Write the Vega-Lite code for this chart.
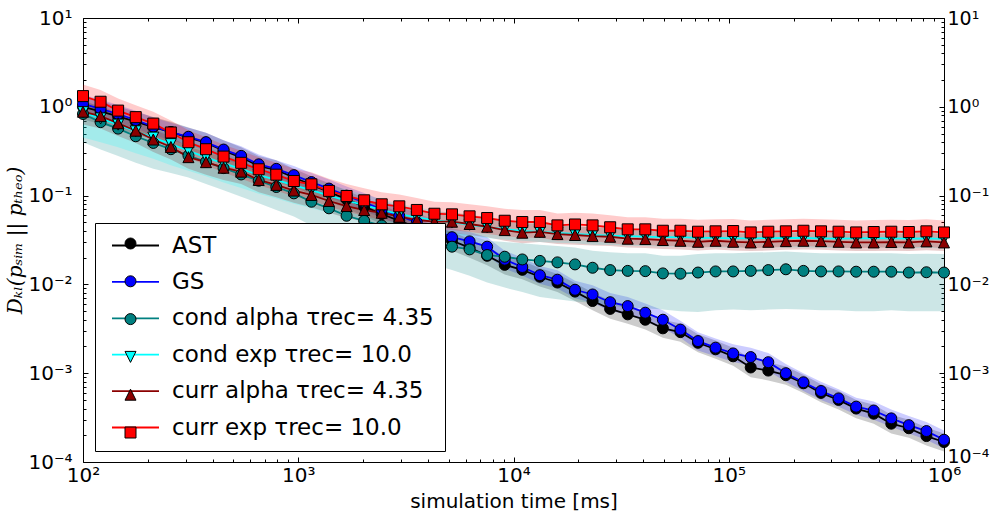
{
"$schema": "https://vega.github.io/schema/vega-lite/v6.json",
"width": 861,
"height": 444,
"autosize": {"type": "none"},
"padding": {"left": 83, "top": 18, "right": 46, "bottom": 56},
"background": "white",
"config": {
  "font": "DejaVu Sans",
  "view": {"stroke": "black", "strokeWidth": 1},
  "axis": {"domain": false, "grid": false, "labelColor": "black", "tickColor": "black", "labelFontSize": 20, "labelFont": "DejaVu Sans", "titleColor": "black", "titleFontWeight": "normal", "labelOverlap": false, "labelFlush": false, "tickWidth": 1}
},
"data": {"values": [
{"s":"AST","t":100,"v":1.0,"lo":0.72,"hi":1.3},
{"s":"AST","t":120.7,"v":0.89,"lo":0.64,"hi":1.16},
{"s":"AST","t":145.6,"v":0.78,"lo":0.56,"hi":1.01},
{"s":"AST","t":175.8,"v":0.68,"lo":0.49,"hi":0.88},
{"s":"AST","t":212.1,"v":0.59,"lo":0.425,"hi":0.77},
{"s":"AST","t":256,"v":0.52,"lo":0.375,"hi":0.68},
{"s":"AST","t":308.9,"v":0.45,"lo":0.325,"hi":0.585},
{"s":"AST","t":372.8,"v":0.395,"lo":0.285,"hi":0.51},
{"s":"AST","t":449.8,"v":0.32,"lo":0.23,"hi":0.42},
{"s":"AST","t":542.9,"v":0.27,"lo":0.195,"hi":0.35},
{"s":"AST","t":655.1,"v":0.215,"lo":0.155,"hi":0.28},
{"s":"AST","t":790.6,"v":0.195,"lo":0.14,"hi":0.25},
{"s":"AST","t":954.1,"v":0.16,"lo":0.125,"hi":0.2},
{"s":"AST","t":1151,"v":0.132,"lo":0.103,"hi":0.165},
{"s":"AST","t":1389,"v":0.11,"lo":0.086,"hi":0.138},
{"s":"AST","t":1677,"v":0.091,"lo":0.071,"hi":0.114},
{"s":"AST","t":2024,"v":0.075,"lo":0.059,"hi":0.094},
{"s":"AST","t":2442,"v":0.062,"lo":0.048,"hi":0.078},
{"s":"AST","t":2947,"v":0.052,"lo":0.041,"hi":0.065},
{"s":"AST","t":3556,"v":0.044,"lo":0.034,"hi":0.055},
{"s":"AST","t":4292,"v":0.037,"lo":0.029,"hi":0.046},
{"s":"AST","t":5179,"v":0.031,"lo":0.024,"hi":0.039},
{"s":"AST","t":6251,"v":0.026,"lo":0.02,"hi":0.0325},
{"s":"AST","t":7543,"v":0.021,"lo":0.0164,"hi":0.0263},
{"s":"AST","t":9103,"v":0.0166,"lo":0.0129,"hi":0.0208},
{"s":"AST","t":10985,"v":0.0146,"lo":0.0114,"hi":0.0183},
{"s":"AST","t":13257,"v":0.0122,"lo":0.0095,"hi":0.0153},
{"s":"AST","t":15999,"v":0.0105,"lo":0.0082,"hi":0.0131},
{"s":"AST","t":19307,"v":0.0083,"lo":0.0065,"hi":0.0104},
{"s":"AST","t":23300,"v":0.0065,"lo":0.0051,"hi":0.0081},
{"s":"AST","t":28118,"v":0.0053,"lo":0.0041,"hi":0.0066},
{"s":"AST","t":33932,"v":0.0046,"lo":0.0036,"hi":0.0058},
{"s":"AST","t":40949,"v":0.004,"lo":0.0031,"hi":0.005},
{"s":"AST","t":49417,"v":0.0032,"lo":0.0025,"hi":0.004},
{"s":"AST","t":59636,"v":0.0029,"lo":0.00226,"hi":0.00363},
{"s":"AST","t":71969,"v":0.0022,"lo":0.00172,"hi":0.00275},
{"s":"AST","t":86851,"v":0.00186,"lo":0.00145,"hi":0.00233},
{"s":"AST","t":104811,"v":0.00155,"lo":0.00121,"hi":0.00194},
{"s":"AST","t":126486,"v":0.00116,"lo":0.0009,"hi":0.00145},
{"s":"AST","t":152642,"v":0.00107,"lo":0.00083,"hi":0.00134},
{"s":"AST","t":184207,"v":0.00095,"lo":0.00074,"hi":0.00119},
{"s":"AST","t":222300,"v":0.00077,"lo":0.0006,"hi":0.00096},
{"s":"AST","t":268270,"v":0.0006,"lo":0.00047,"hi":0.00075},
{"s":"AST","t":323746,"v":0.0005,"lo":0.00039,"hi":0.00063},
{"s":"AST","t":390694,"v":0.0004,"lo":0.00031,"hi":0.0005},
{"s":"AST","t":471487,"v":0.00035,"lo":0.00027,"hi":0.00044},
{"s":"AST","t":568987,"v":0.00027,"lo":0.00021,"hi":0.00034},
{"s":"AST","t":686649,"v":0.00024,"lo":0.000187,"hi":0.0003},
{"s":"AST","t":828643,"v":0.000196,"lo":0.000153,"hi":0.000245},
{"s":"AST","t":1000000,"v":0.000168,"lo":0.000131,"hi":0.00021},
{"s":"GS","t":100,"v":1.08,"lo":0.86,"hi":1.37},
{"s":"GS","t":120.7,"v":0.95,"lo":0.76,"hi":1.21},
{"s":"GS","t":145.6,"v":0.83,"lo":0.66,"hi":1.05},
{"s":"GS","t":175.8,"v":0.71,"lo":0.57,"hi":0.9},
{"s":"GS","t":212.1,"v":0.6,"lo":0.48,"hi":0.76},
{"s":"GS","t":256,"v":0.52,"lo":0.42,"hi":0.66},
{"s":"GS","t":308.9,"v":0.46,"lo":0.37,"hi":0.58},
{"s":"GS","t":372.8,"v":0.4,"lo":0.32,"hi":0.51},
{"s":"GS","t":449.8,"v":0.33,"lo":0.26,"hi":0.42},
{"s":"GS","t":542.9,"v":0.28,"lo":0.22,"hi":0.36},
{"s":"GS","t":655.1,"v":0.225,"lo":0.18,"hi":0.29},
{"s":"GS","t":790.6,"v":0.2,"lo":0.16,"hi":0.25},
{"s":"GS","t":954.1,"v":0.17,"lo":0.136,"hi":0.216},
{"s":"GS","t":1151,"v":0.142,"lo":0.114,"hi":0.18},
{"s":"GS","t":1389,"v":0.12,"lo":0.096,"hi":0.152},
{"s":"GS","t":1677,"v":0.1,"lo":0.08,"hi":0.127},
{"s":"GS","t":2024,"v":0.084,"lo":0.067,"hi":0.107},
{"s":"GS","t":2442,"v":0.07,"lo":0.056,"hi":0.089},
{"s":"GS","t":2947,"v":0.059,"lo":0.047,"hi":0.075},
{"s":"GS","t":3556,"v":0.05,"lo":0.04,"hi":0.064},
{"s":"GS","t":4292,"v":0.042,"lo":0.034,"hi":0.053},
{"s":"GS","t":5179,"v":0.034,"lo":0.027,"hi":0.043},
{"s":"GS","t":6251,"v":0.0305,"lo":0.024,"hi":0.039},
{"s":"GS","t":7543,"v":0.0266,"lo":0.021,"hi":0.034},
{"s":"GS","t":9103,"v":0.019,"lo":0.015,"hi":0.024},
{"s":"GS","t":10985,"v":0.0157,"lo":0.0126,"hi":0.02},
{"s":"GS","t":13257,"v":0.0127,"lo":0.0102,"hi":0.0161},
{"s":"GS","t":15999,"v":0.0113,"lo":0.009,"hi":0.0144},
{"s":"GS","t":19307,"v":0.0087,"lo":0.007,"hi":0.011},
{"s":"GS","t":23300,"v":0.0077,"lo":0.0062,"hi":0.0098},
{"s":"GS","t":28118,"v":0.0063,"lo":0.005,"hi":0.008},
{"s":"GS","t":33932,"v":0.0057,"lo":0.0046,"hi":0.0072},
{"s":"GS","t":40949,"v":0.0048,"lo":0.0038,"hi":0.0061},
{"s":"GS","t":49417,"v":0.004,"lo":0.0032,"hi":0.0051},
{"s":"GS","t":59636,"v":0.0031,"lo":0.0025,"hi":0.0039},
{"s":"GS","t":71969,"v":0.0023,"lo":0.0018,"hi":0.0029},
{"s":"GS","t":86851,"v":0.00194,"lo":0.00155,"hi":0.00246},
{"s":"GS","t":104811,"v":0.00167,"lo":0.00134,"hi":0.00212},
{"s":"GS","t":126486,"v":0.00152,"lo":0.00122,"hi":0.00193},
{"s":"GS","t":152642,"v":0.00133,"lo":0.00106,"hi":0.00169},
{"s":"GS","t":184207,"v":0.001,"lo":0.0008,"hi":0.00127},
{"s":"GS","t":222300,"v":0.00079,"lo":0.00063,"hi":0.001},
{"s":"GS","t":268270,"v":0.00063,"lo":0.0005,"hi":0.0008},
{"s":"GS","t":323746,"v":0.00052,"lo":0.00042,"hi":0.00066},
{"s":"GS","t":390694,"v":0.00042,"lo":0.00034,"hi":0.00053},
{"s":"GS","t":471487,"v":0.00038,"lo":0.0003,"hi":0.00048},
{"s":"GS","t":568987,"v":0.00031,"lo":0.00025,"hi":0.00039},
{"s":"GS","t":686649,"v":0.00026,"lo":0.00021,"hi":0.00033},
{"s":"GS","t":828643,"v":0.000223,"lo":0.000178,"hi":0.000283},
{"s":"GS","t":1000000,"v":0.000178,"lo":0.000142,"hi":0.000226},
{"s":"ca","t":100,"v":0.83,"lo":0.4,"hi":1.2},
{"s":"ca","t":120.7,"v":0.672,"lo":0.33,"hi":0.97},
{"s":"ca","t":145.6,"v":0.568,"lo":0.28,"hi":0.82},
{"s":"ca","t":175.8,"v":0.466,"lo":0.235,"hi":0.68},
{"s":"ca","t":212.1,"v":0.392,"lo":0.2,"hi":0.57},
{"s":"ca","t":256,"v":0.333,"lo":0.18,"hi":0.48},
{"s":"ca","t":308.9,"v":0.283,"lo":0.16,"hi":0.41},
{"s":"ca","t":372.8,"v":0.24,"lo":0.135,"hi":0.35},
{"s":"ca","t":449.8,"v":0.204,"lo":0.115,"hi":0.3},
{"s":"ca","t":542.9,"v":0.173,"lo":0.097,"hi":0.25},
{"s":"ca","t":655.1,"v":0.147,"lo":0.082,"hi":0.213},
{"s":"ca","t":790.6,"v":0.125,"lo":0.069,"hi":0.181},
{"s":"ca","t":954.1,"v":0.106,"lo":0.058,"hi":0.154},
{"s":"ca","t":1151,"v":0.0853,"lo":0.046,"hi":0.124},
{"s":"ca","t":1389,"v":0.0719,"lo":0.038,"hi":0.104},
{"s":"ca","t":1677,"v":0.0593,"lo":0.031,"hi":0.086},
{"s":"ca","t":2024,"v":0.052,"lo":0.027,"hi":0.075},
{"s":"ca","t":2442,"v":0.046,"lo":0.023,"hi":0.067},
{"s":"ca","t":2947,"v":0.04,"lo":0.02,"hi":0.058},
{"s":"ca","t":3556,"v":0.035,"lo":0.018,"hi":0.051},
{"s":"ca","t":4292,"v":0.03,"lo":0.0165,"hi":0.044},
{"s":"ca","t":5179,"v":0.0266,"lo":0.0145,"hi":0.039},
{"s":"ca","t":6251,"v":0.0248,"lo":0.0125,"hi":0.036},
{"s":"ca","t":7543,"v":0.0214,"lo":0.0105,"hi":0.031},
{"s":"ca","t":9103,"v":0.0205,"lo":0.0092,"hi":0.03},
{"s":"ca","t":10985,"v":0.0191,"lo":0.0082,"hi":0.029},
{"s":"ca","t":13257,"v":0.0184,"lo":0.0072,"hi":0.028},
{"s":"ca","t":15999,"v":0.0177,"lo":0.0068,"hi":0.027},
{"s":"ca","t":19307,"v":0.0168,"lo":0.0064,"hi":0.026},
{"s":"ca","t":23300,"v":0.0154,"lo":0.0062,"hi":0.024},
{"s":"ca","t":28118,"v":0.0145,"lo":0.0058,"hi":0.023},
{"s":"ca","t":33932,"v":0.0142,"lo":0.0055,"hi":0.0225},
{"s":"ca","t":40949,"v":0.0141,"lo":0.0054,"hi":0.0224},
{"s":"ca","t":49417,"v":0.0133,"lo":0.0052,"hi":0.021},
{"s":"ca","t":59636,"v":0.0132,"lo":0.005,"hi":0.021},
{"s":"ca","t":71969,"v":0.0136,"lo":0.0049,"hi":0.022},
{"s":"ca","t":86851,"v":0.014,"lo":0.0051,"hi":0.0224},
{"s":"ca","t":104811,"v":0.014,"lo":0.0052,"hi":0.0225},
{"s":"ca","t":126486,"v":0.0142,"lo":0.0051,"hi":0.0228},
{"s":"ca","t":152642,"v":0.0145,"lo":0.0052,"hi":0.023},
{"s":"ca","t":184207,"v":0.0148,"lo":0.0053,"hi":0.0235},
{"s":"ca","t":222300,"v":0.0142,"lo":0.0052,"hi":0.0228},
{"s":"ca","t":268270,"v":0.014,"lo":0.0051,"hi":0.0225},
{"s":"ca","t":323746,"v":0.014,"lo":0.0051,"hi":0.0225},
{"s":"ca","t":390694,"v":0.0139,"lo":0.005,"hi":0.0224},
{"s":"ca","t":471487,"v":0.0139,"lo":0.005,"hi":0.0224},
{"s":"ca","t":568987,"v":0.0139,"lo":0.0051,"hi":0.0224},
{"s":"ca","t":686649,"v":0.0136,"lo":0.005,"hi":0.022},
{"s":"ca","t":828643,"v":0.0137,"lo":0.005,"hi":0.0222},
{"s":"ca","t":1000000,"v":0.0136,"lo":0.005,"hi":0.022},
{"s":"ce","t":100,"v":0.87,"lo":0.45,"hi":1.15},
{"s":"ce","t":120.7,"v":0.74,"lo":0.4,"hi":0.99},
{"s":"ce","t":145.6,"v":0.63,"lo":0.35,"hi":0.85},
{"s":"ce","t":175.8,"v":0.53,"lo":0.3,"hi":0.72},
{"s":"ce","t":212.1,"v":0.45,"lo":0.26,"hi":0.61},
{"s":"ce","t":256,"v":0.38,"lo":0.22,"hi":0.52},
{"s":"ce","t":308.9,"v":0.32,"lo":0.19,"hi":0.44},
{"s":"ce","t":372.8,"v":0.27,"lo":0.165,"hi":0.37},
{"s":"ce","t":449.8,"v":0.23,"lo":0.14,"hi":0.31},
{"s":"ce","t":542.9,"v":0.2,"lo":0.122,"hi":0.27},
{"s":"ce","t":655.1,"v":0.17,"lo":0.105,"hi":0.23},
{"s":"ce","t":790.6,"v":0.15,"lo":0.093,"hi":0.2},
{"s":"ce","t":954.1,"v":0.13,"lo":0.081,"hi":0.175},
{"s":"ce","t":1151,"v":0.115,"lo":0.072,"hi":0.155},
{"s":"ce","t":1389,"v":0.1,"lo":0.064,"hi":0.134},
{"s":"ce","t":1677,"v":0.088,"lo":0.057,"hi":0.117},
{"s":"ce","t":2024,"v":0.078,"lo":0.051,"hi":0.103},
{"s":"ce","t":2442,"v":0.069,"lo":0.046,"hi":0.091},
{"s":"ce","t":2947,"v":0.062,"lo":0.042,"hi":0.081},
{"s":"ce","t":3556,"v":0.057,"lo":0.04,"hi":0.074},
{"s":"ce","t":4292,"v":0.053,"lo":0.038,"hi":0.068},
{"s":"ce","t":5179,"v":0.05,"lo":0.036,"hi":0.064},
{"s":"ce","t":6251,"v":0.047,"lo":0.035,"hi":0.06},
{"s":"ce","t":7543,"v":0.044,"lo":0.033,"hi":0.056},
{"s":"ce","t":9103,"v":0.042,"lo":0.032,"hi":0.053},
{"s":"ce","t":10985,"v":0.04,"lo":0.031,"hi":0.05},
{"s":"ce","t":13257,"v":0.039,"lo":0.03,"hi":0.048},
{"s":"ce","t":15999,"v":0.038,"lo":0.0295,"hi":0.047},
{"s":"ce","t":19307,"v":0.037,"lo":0.029,"hi":0.045},
{"s":"ce","t":23300,"v":0.036,"lo":0.028,"hi":0.044},
{"s":"ce","t":28118,"v":0.0355,"lo":0.0277,"hi":0.0435},
{"s":"ce","t":33932,"v":0.035,"lo":0.0273,"hi":0.043},
{"s":"ce","t":40949,"v":0.0345,"lo":0.027,"hi":0.042},
{"s":"ce","t":49417,"v":0.034,"lo":0.0265,"hi":0.0415},
{"s":"ce","t":59636,"v":0.034,"lo":0.0265,"hi":0.0415},
{"s":"ce","t":71969,"v":0.0335,"lo":0.026,"hi":0.041},
{"s":"ce","t":86851,"v":0.0335,"lo":0.026,"hi":0.041},
{"s":"ce","t":104811,"v":0.033,"lo":0.0258,"hi":0.0403},
{"s":"ce","t":126486,"v":0.033,"lo":0.0258,"hi":0.0403},
{"s":"ce","t":152642,"v":0.0332,"lo":0.026,"hi":0.0405},
{"s":"ce","t":184207,"v":0.0335,"lo":0.026,"hi":0.041},
{"s":"ce","t":222300,"v":0.0333,"lo":0.026,"hi":0.0406},
{"s":"ce","t":268270,"v":0.033,"lo":0.0258,"hi":0.0403},
{"s":"ce","t":323746,"v":0.0328,"lo":0.0256,"hi":0.04},
{"s":"ce","t":390694,"v":0.033,"lo":0.0258,"hi":0.0403},
{"s":"ce","t":471487,"v":0.0332,"lo":0.026,"hi":0.0405},
{"s":"ce","t":568987,"v":0.033,"lo":0.0258,"hi":0.0403},
{"s":"ce","t":686649,"v":0.0328,"lo":0.0256,"hi":0.04},
{"s":"ce","t":828643,"v":0.033,"lo":0.0258,"hi":0.0403},
{"s":"ce","t":1000000,"v":0.0326,"lo":0.0254,"hi":0.0398},
{"s":"ra","t":100,"v":0.88,"lo":0.63,"hi":1.15},
{"s":"ra","t":120.7,"v":0.786,"lo":0.57,"hi":1.02},
{"s":"ra","t":145.6,"v":0.653,"lo":0.47,"hi":0.85},
{"s":"ra","t":175.8,"v":0.538,"lo":0.39,"hi":0.7},
{"s":"ra","t":212.1,"v":0.428,"lo":0.31,"hi":0.56},
{"s":"ra","t":256,"v":0.353,"lo":0.255,"hi":0.46},
{"s":"ra","t":308.9,"v":0.271,"lo":0.2,"hi":0.355},
{"s":"ra","t":372.8,"v":0.238,"lo":0.172,"hi":0.31},
{"s":"ra","t":449.8,"v":0.206,"lo":0.15,"hi":0.268},
{"s":"ra","t":542.9,"v":0.186,"lo":0.135,"hi":0.242},
{"s":"ra","t":655.1,"v":0.15,"lo":0.109,"hi":0.195},
{"s":"ra","t":790.6,"v":0.132,"lo":0.096,"hi":0.172},
{"s":"ra","t":954.1,"v":0.114,"lo":0.083,"hi":0.148},
{"s":"ra","t":1151,"v":0.1016,"lo":0.074,"hi":0.132},
{"s":"ra","t":1389,"v":0.0869,"lo":0.064,"hi":0.113},
{"s":"ra","t":1677,"v":0.0763,"lo":0.056,"hi":0.099},
{"s":"ra","t":2024,"v":0.0688,"lo":0.051,"hi":0.089},
{"s":"ra","t":2442,"v":0.0641,"lo":0.048,"hi":0.083},
{"s":"ra","t":2947,"v":0.0578,"lo":0.043,"hi":0.075},
{"s":"ra","t":3556,"v":0.0531,"lo":0.04,"hi":0.068},
{"s":"ra","t":4292,"v":0.0508,"lo":0.038,"hi":0.065},
{"s":"ra","t":5179,"v":0.0508,"lo":0.038,"hi":0.065},
{"s":"ra","t":6251,"v":0.0479,"lo":0.036,"hi":0.061},
{"s":"ra","t":7543,"v":0.0446,"lo":0.034,"hi":0.057},
{"s":"ra","t":9103,"v":0.0409,"lo":0.031,"hi":0.052},
{"s":"ra","t":10985,"v":0.0382,"lo":0.029,"hi":0.048},
{"s":"ra","t":13257,"v":0.0391,"lo":0.03,"hi":0.049},
{"s":"ra","t":15999,"v":0.0369,"lo":0.0285,"hi":0.0465},
{"s":"ra","t":19307,"v":0.036,"lo":0.028,"hi":0.0452},
{"s":"ra","t":23300,"v":0.035,"lo":0.0275,"hi":0.044},
{"s":"ra","t":28118,"v":0.0344,"lo":0.027,"hi":0.043},
{"s":"ra","t":33932,"v":0.0327,"lo":0.026,"hi":0.041},
{"s":"ra","t":40949,"v":0.0324,"lo":0.0257,"hi":0.0405},
{"s":"ra","t":49417,"v":0.0316,"lo":0.0251,"hi":0.0395},
{"s":"ra","t":59636,"v":0.031,"lo":0.0247,"hi":0.0387},
{"s":"ra","t":71969,"v":0.0302,"lo":0.0241,"hi":0.0377},
{"s":"ra","t":86851,"v":0.031,"lo":0.0247,"hi":0.0387},
{"s":"ra","t":104811,"v":0.0302,"lo":0.0241,"hi":0.0377},
{"s":"ra","t":126486,"v":0.0297,"lo":0.0237,"hi":0.0371},
{"s":"ra","t":152642,"v":0.0302,"lo":0.0241,"hi":0.0377},
{"s":"ra","t":184207,"v":0.0307,"lo":0.0245,"hi":0.0383},
{"s":"ra","t":222300,"v":0.031,"lo":0.0247,"hi":0.0387},
{"s":"ra","t":268270,"v":0.0307,"lo":0.0245,"hi":0.0383},
{"s":"ra","t":323746,"v":0.0302,"lo":0.0241,"hi":0.0377},
{"s":"ra","t":390694,"v":0.0297,"lo":0.0237,"hi":0.0371},
{"s":"ra","t":471487,"v":0.0297,"lo":0.0237,"hi":0.0371},
{"s":"ra","t":568987,"v":0.03,"lo":0.0239,"hi":0.0375},
{"s":"ra","t":686649,"v":0.0297,"lo":0.0237,"hi":0.0371},
{"s":"ra","t":828643,"v":0.0305,"lo":0.0243,"hi":0.0381},
{"s":"ra","t":1000000,"v":0.0297,"lo":0.0237,"hi":0.0371},
{"s":"re","t":100,"v":1.32,"lo":0.87,"hi":1.78},
{"s":"re","t":120.7,"v":1.14,"lo":0.76,"hi":1.55},
{"s":"re","t":145.6,"v":0.906,"lo":0.6,"hi":1.24},
{"s":"re","t":175.8,"v":0.765,"lo":0.51,"hi":1.04},
{"s":"re","t":212.1,"v":0.647,"lo":0.43,"hi":0.88},
{"s":"re","t":256,"v":0.514,"lo":0.34,"hi":0.7},
{"s":"re","t":308.9,"v":0.399,"lo":0.265,"hi":0.545},
{"s":"re","t":372.8,"v":0.333,"lo":0.22,"hi":0.455},
{"s":"re","t":449.8,"v":0.275,"lo":0.182,"hi":0.375},
{"s":"re","t":542.9,"v":0.234,"lo":0.155,"hi":0.32},
{"s":"re","t":655.1,"v":0.198,"lo":0.131,"hi":0.27},
{"s":"re","t":790.6,"v":0.172,"lo":0.114,"hi":0.235},
{"s":"re","t":954.1,"v":0.146,"lo":0.097,"hi":0.2},
{"s":"re","t":1151,"v":0.134,"lo":0.089,"hi":0.183},
{"s":"re","t":1389,"v":0.113,"lo":0.075,"hi":0.155},
{"s":"re","t":1677,"v":0.099,"lo":0.066,"hi":0.135},
{"s":"re","t":2024,"v":0.0885,"lo":0.059,"hi":0.121},
{"s":"re","t":2442,"v":0.0798,"lo":0.053,"hi":0.109},
{"s":"re","t":2947,"v":0.0757,"lo":0.05,"hi":0.103},
{"s":"re","t":3556,"v":0.0689,"lo":0.046,"hi":0.094},
{"s":"re","t":4292,"v":0.0625,"lo":0.042,"hi":0.085},
{"s":"re","t":5179,"v":0.0615,"lo":0.041,"hi":0.084},
{"s":"re","t":6251,"v":0.0584,"lo":0.039,"hi":0.08},
{"s":"re","t":7543,"v":0.0559,"lo":0.037,"hi":0.076},
{"s":"re","t":9103,"v":0.0521,"lo":0.035,"hi":0.071},
{"s":"re","t":10985,"v":0.0504,"lo":0.0335,"hi":0.069},
{"s":"re","t":13257,"v":0.0504,"lo":0.0335,"hi":0.069},
{"s":"re","t":15999,"v":0.0462,"lo":0.031,"hi":0.063},
{"s":"re","t":19307,"v":0.0473,"lo":0.0315,"hi":0.064},
{"s":"re","t":23300,"v":0.0462,"lo":0.031,"hi":0.063},
{"s":"re","t":28118,"v":0.044,"lo":0.029,"hi":0.06},
{"s":"re","t":33932,"v":0.0417,"lo":0.028,"hi":0.057},
{"s":"re","t":40949,"v":0.0417,"lo":0.028,"hi":0.057},
{"s":"re","t":49417,"v":0.0402,"lo":0.027,"hi":0.055},
{"s":"re","t":59636,"v":0.0402,"lo":0.027,"hi":0.055},
{"s":"re","t":71969,"v":0.0392,"lo":0.026,"hi":0.0535},
{"s":"re","t":86851,"v":0.0396,"lo":0.0265,"hi":0.054},
{"s":"re","t":104811,"v":0.0399,"lo":0.0265,"hi":0.0545},
{"s":"re","t":126486,"v":0.0385,"lo":0.0255,"hi":0.0525},
{"s":"re","t":152642,"v":0.0392,"lo":0.026,"hi":0.0535},
{"s":"re","t":184207,"v":0.0396,"lo":0.0265,"hi":0.054},
{"s":"re","t":222300,"v":0.0402,"lo":0.027,"hi":0.055},
{"s":"re","t":268270,"v":0.0396,"lo":0.0265,"hi":0.054},
{"s":"re","t":323746,"v":0.0392,"lo":0.026,"hi":0.0535},
{"s":"re","t":390694,"v":0.0385,"lo":0.0255,"hi":0.0525},
{"s":"re","t":471487,"v":0.0389,"lo":0.026,"hi":0.053},
{"s":"re","t":568987,"v":0.0392,"lo":0.026,"hi":0.0535},
{"s":"re","t":686649,"v":0.0389,"lo":0.026,"hi":0.053},
{"s":"re","t":828643,"v":0.0396,"lo":0.0265,"hi":0.054},
{"s":"re","t":1000000,"v":0.0385,"lo":0.0255,"hi":0.0525}
]},
"layer": [
  {
    "mark": {"type": "area", "opacity": 0.2, "strokeWidth": 0},
    "encoding": {
      "x": {"field": "t", "type": "quantitative",
        "scale": {"type": "log", "domain": [100, 1000000], "nice": false},
        "axis": {"orient": "bottom",
          "values": [100,200,300,400,500,600,700,800,900,1000,2000,3000,4000,5000,6000,7000,8000,9000,10000,20000,30000,40000,50000,60000,70000,80000,90000,100000,200000,300000,400000,500000,600000,700000,800000,900000,1000000],
          "labelExpr": "datum.value == 100 ? '10²' : datum.value == 1000 ? '10³' : datum.value == 10000 ? '10⁴' : datum.value == 100000 ? '10⁵' : datum.value == 1000000 ? '10⁶' : ''",
          "tickSize": {"condition": {"test": "indexof([100,1000,10000,100000,1000000], datum.value) >= 0", "value": -5}, "value": -3},
          "labelPadding": 8,
          "title": "simulation time [ms]", "titleFontSize": 20, "titlePadding": 4}},
      "y": {"field": "lo", "type": "quantitative",
        "scale": {"type": "log", "domain": [0.0001, 10], "nice": false},
        "axis": {"orient": "left",
          "values": [0.0001,0.0002,0.0003,0.0004,0.0005,0.0006,0.0007,0.0008,0.0009,0.001,0.002,0.003,0.004,0.005,0.006,0.007,0.008,0.009,0.01,0.02,0.03,0.04,0.05,0.06,0.07,0.08,0.09,0.1,0.2,0.3,0.4,0.5,0.6,0.7,0.8,0.9,1,2,3,4,5,6,7,8,9,10],
          "labelExpr": "datum.value == 10 ? '10¹' : datum.value == 1 ? '10⁰' : datum.value == 0.1 ? '10⁻¹' : datum.value == 0.01 ? '10⁻²' : datum.value == 0.001 ? '10⁻³' : datum.value == 0.0001 ? '10⁻⁴' : ''",
          "tickSize": {"condition": {"test": "indexof([0.0001,0.001,0.01,0.1,1,10], datum.value) >= 0", "value": -5}, "value": -3},
          "labelPadding": 16,
          "title": "Dₖₗ(pₛᵢₘ || pₜₕₑₒ)", "titleFont": "DejaVu Serif", "titleFontStyle": "italic", "titleFontSize": 20, "titlePadding": 2}},
      "y2": {"field": "hi"},
      "color": {"field": "s", "type": "nominal",
        "scale": {"domain": ["GS","AST","ca","ce","ra","re"], "range": ["#0000ff","#000000","#008080","#00ffff","#8b0000","#ff0000"]},
        "legend": null}
    }
  },
  {
    "mark": {"type": "line", "strokeWidth": 1.8},
    "encoding": {
      "x": {"field": "t", "type": "quantitative", "axis": null},
      "y": {"field": "v", "type": "quantitative", "axis": null},
      "stroke": {"field": "s", "type": "nominal",
        "scale": {"domain": ["AST","GS","ca","ce","ra","re"], "range": ["#000000","#0000ff","#008080","#00ffff","#8b0000","#ff0000"]},
        "legend": {"orient": "none", "legendX": 12, "legendY": 205, "title": null,
          "symbolType": "M-1,0H7.545", "symbolSize": 121, "symbolStrokeWidth": 1.8,
          "labelOffset": 43, "padding": 11, "rowPadding": 12.4,
          "fillColor": "white", "strokeColor": "black",
          "labelFontSize": 23, "labelFont": "DejaVu Sans", "labelColor": "black", "labelLimit": 500,
          "labelExpr": "datum.label == 'ca' ? 'cond alpha τrec= 4.35' : datum.label == 'ce' ? 'cond exp τrec= 10.0' : datum.label == 'ra' ? 'curr alpha τrec= 4.35' : datum.label == 're' ? 'curr exp τrec= 10.0' : datum.label",
          "zindex": 1}}
    }
  },
  {
    "mark": {"type": "point", "filled": true, "opacity": 1, "stroke": "black", "strokeWidth": 1, "size": 121},
    "encoding": {
      "x": {"field": "t", "type": "quantitative",
        "axis": {"orient": "top",
          "values": [100,200,300,400,500,600,700,800,900,1000,2000,3000,4000,5000,6000,7000,8000,9000,10000,20000,30000,40000,50000,60000,70000,80000,90000,100000,200000,300000,400000,500000,600000,700000,800000,900000,1000000],
          "labels": false,
          "tickSize": {"condition": {"test": "indexof([100,1000,10000,100000,1000000], datum.value) >= 0", "value": -5}, "value": -3},
          "title": null}},
      "y": {"field": "v", "type": "quantitative",
        "axis": {"orient": "right",
          "values": [0.0001,0.0002,0.0003,0.0004,0.0005,0.0006,0.0007,0.0008,0.0009,0.001,0.002,0.003,0.004,0.005,0.006,0.007,0.008,0.009,0.01,0.02,0.03,0.04,0.05,0.06,0.07,0.08,0.09,0.1,0.2,0.3,0.4,0.5,0.6,0.7,0.8,0.9,1,2,3,4,5,6,7,8,9,10],
          "labelExpr": "datum.value == 10 ? '10¹' : datum.value == 1 ? '10⁰' : datum.value == 0.1 ? '10⁻¹' : datum.value == 0.01 ? '10⁻²' : datum.value == 0.001 ? '10⁻³' : datum.value == 0.0001 ? '10⁻⁴' : ''",
          "tickSize": {"condition": {"test": "indexof([0.0001,0.001,0.01,0.1,1,10], datum.value) >= 0", "value": -5}, "value": -3},
          "labelBaseline": {"condition": {"test": "datum.value == 0.0001", "value": "alphabetic"}, "value": "middle"},
          "labelPadding": 8, "labelFontSize": 19,
          "title": null}},
      "fill": {"field": "s", "type": "nominal",
        "scale": {"domain": ["re","ra","ce","ca","GS","AST"], "range": ["#ff0000","#8b0000","#00ffff","#008080","#0000ff","#000000"]},
        "legend": {"orient": "none", "legendX": 30.5, "legendY": 208.5, "title": null,
          "values": ["AST","GS","ca","ce","ra","re"],
          "symbolSize": 121, "symbolStrokeColor": "black", "symbolStrokeWidth": 1,
          "labelOffset": 0, "padding": 11, "rowPadding": 21.8,
          "labelFontSize": 1, "labelLimit": 500,
          "labelExpr": "''",
          "zindex": 2}},
      "shape": {"field": "s", "type": "nominal",
        "scale": {"domain": ["re","ra","ce","ca","GS","AST"], "range": ["square","M0,-1L1,1L-1,1Z","M0,1L1,-1L-1,-1Z","circle","circle","circle"]}}
    }
  }
],
"resolve": {"axis": {"x": "independent", "y": "independent"}}
}
